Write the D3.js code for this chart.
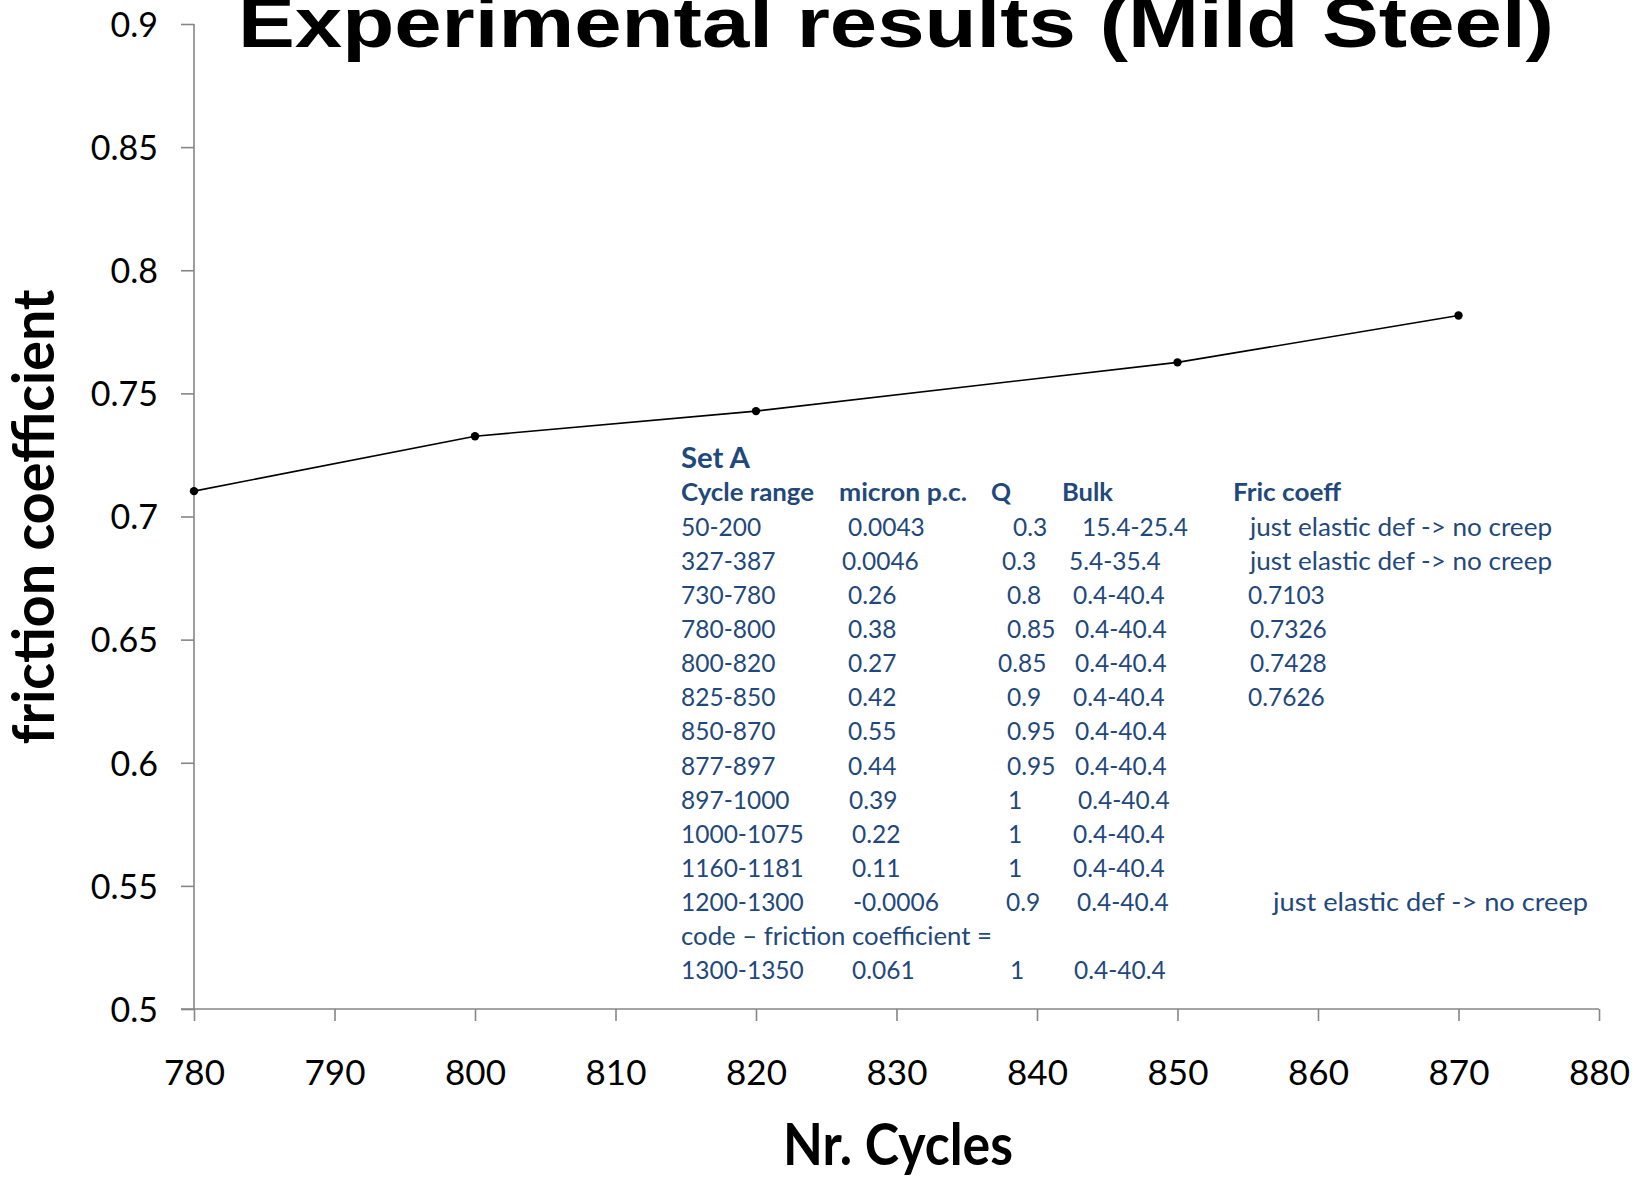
<!DOCTYPE html>
<html>
<head>
<meta charset="utf-8">
<script src="https://cdn.jsdelivr.net/npm/d3@7"></script>
<style>
  html, body { margin: 0; padding: 0; background: #fff; }
  svg { display: block; }
</style>
</head>
<body>
<svg id="chart" width="1640" height="1180"></svg>
<script>
// ---- Data ----
const cycles = [780, 800, 820, 850, 870];
const frictionCoeff = [0.7103, 0.7326, 0.7428, 0.7626, 0.7816];
const xTicks = [780, 790, 800, 810, 820, 830, 840, 850, 860, 870, 880];
const yTicks = [0.5, 0.55, 0.6, 0.65, 0.7, 0.75, 0.8, 0.85, 0.9];
const yTickLabels = ["0.5", "0.55", "0.6", "0.65", "0.7", "0.75", "0.8", "0.85", "0.9"];

const titleText = "Experimental results (Mild Steel)";
const xTitle = "Nr. Cycles";
const yTitle = "friction coefficient";

// Table annotation (Set A)
const tableTitle = "Set A";
const tableHeaders = ["Cycle range", "micron p.c.", "Q", "Bulk", "Fric coeff"];
const colRange = ["50-200", "327-387", "730-780", "780-800", "800-820", "825-850", "850-870", "877-897", "897-1000", "1000-1075", "1160-1181", "1200-1300", "code \u2013 friction coefficient =", "1300-1350"];
const colMicron = ["0.0043", "0.0046", "0.26", "0.38", "0.27", "0.42", "0.55", "0.44", "0.39", "0.22", "0.11", "-0.0006", "", "0.061"];
const colQ = ["0.3", "0.3", "0.8", "0.85", "0.85", "0.9", "0.95", "0.95", "1", "1", "1", "0.9", "", "1"];
const colBulk = ["15.4-25.4", "5.4-35.4", "0.4-40.4", "0.4-40.4", "0.4-40.4", "0.4-40.4", "0.4-40.4", "0.4-40.4", "0.4-40.4", "0.4-40.4", "0.4-40.4", "0.4-40.4", "", "0.4-40.4"];
const colFric = ["just elastic def -> no creep", "just elastic def -> no creep", "0.7103", "0.7326", "0.7428", "0.7626", "", "", "", "", "", "just elastic def -> no creep", "", ""];

// ---- Layout ----
const svg = d3.select("#chart");
const x = d3.scaleLinear().domain([780, 880]).range([194, 1599]);
const y = d3.scaleLinear().domain([0.5, 0.9]).range([1009, 24]);
const axisColor = "#868686";
const tableColor = "#1F497D";
const bodyFont = "Lato, 'Open Sans', 'Noto Sans', sans-serif";

// Title
svg.append("text")
  .attr("x", 238).attr("y", 47)
  .attr("font-family", "'Liberation Sans', Arial, sans-serif")
  .attr("font-weight", "bold")
  .attr("font-size", 70)
  .attr("textLength", 1316)
  .attr("lengthAdjust", "spacingAndGlyphs")
  .attr("fill", "#000")
  .text(titleText);

// X axis
const xAxis = d3.axisBottom(x).tickValues(xTicks).tickFormat(d3.format("d"))
  .tickSizeInner(12).tickSizeOuter(0).tickPadding(39);
const gx = svg.append("g").attr("transform", `translate(0,${y(0.5)})`).call(xAxis);
gx.select(".domain").attr("stroke", axisColor).attr("stroke-width", 1.6)
  .attr("d", `M${x(780) - 13},0H${x(880)}`);
gx.selectAll(".tick line").attr("stroke", axisColor).attr("stroke-width", 1.6);
gx.selectAll(".tick text").attr("fill", "#000")
  .attr("font-family", bodyFont).attr("font-size", 35);

// Y axis
const yAxis = d3.axisLeft(y).tickValues(yTicks).tickFormat((d, i) => yTickLabels[i])
  .tickSizeInner(13).tickSizeOuter(0).tickPadding(23);
const gy = svg.append("g").attr("transform", `translate(${x(780)},0)`).call(yAxis);
gy.select(".domain").attr("stroke", axisColor).attr("stroke-width", 1.6)
  .attr("d", `M0,${y(0.9)}V${y(0.5)}`);
gy.selectAll(".tick line").attr("stroke", axisColor).attr("stroke-width", 1.6);
gy.selectAll(".tick text").attr("fill", "#000")
  .attr("font-family", bodyFont).attr("font-size", 34).attr("dy", "0.36em");

// Axis titles
svg.append("text")
  .attr("x", 898).attr("y", 1165)
  .attr("text-anchor", "middle")
  .attr("font-family", bodyFont).attr("font-weight", "bold")
  .attr("font-size", 57)
  .attr("textLength", 230).attr("lengthAdjust", "spacingAndGlyphs")
  .attr("fill", "#000")
  .text(xTitle);

svg.append("text")
  .attr("transform", `translate(54,517) rotate(-90)`)
  .attr("text-anchor", "middle")
  .attr("font-family", bodyFont).attr("font-weight", "bold")
  .attr("font-size", 57)
  .attr("textLength", 455).attr("lengthAdjust", "spacingAndGlyphs")
  .attr("fill", "#000")
  .text(yTitle);

// Line + markers
const pts = cycles.map((c, i) => [c, frictionCoeff[i]]);
svg.append("path")
  .attr("d", d3.line().x(d => x(d[0])).y(d => y(d[1]))(pts))
  .attr("fill", "none").attr("stroke", "#000").attr("stroke-width", 1.6);
svg.selectAll("circle.pt").data(pts).enter().append("circle")
  .attr("class", "pt")
  .attr("cx", d => x(d[0])).attr("cy", d => y(d[1])).attr("r", 4.2)
  .attr("fill", "#000");

// Table annotation
const tbl = svg.append("g").attr("font-family", bodyFont).attr("fill", tableColor);
tbl.append("text").attr("x", 681).attr("y", 468)
  .attr("font-weight", "bold").attr("font-size", 28)
  .attr("textLength", 69).attr("lengthAdjust", "spacingAndGlyphs")
  .text(tableTitle);

const headerX = [681, 839, 991, 1062, 1233];
const headerW = [133, 128, 20, 51, 108];
tableHeaders.forEach((h, i) => {
  tbl.append("text").attr("x", headerX[i]).attr("y", 501)
    .attr("font-weight", "bold").attr("font-size", 25)
    .attr("textLength", headerW[i]).attr("lengthAdjust", "spacingAndGlyphs")
    .text(h);
});

const rowY0 = 535.5, rowStep = 34.15;
const microX = [848, 842, 848, 848, 848, 848, 848, 848, 849, 852, 852, 853, 0, 852];
const qX = [1013, 1002, 1007, 1007, 998, 1007, 1007, 1007, 1008, 1008, 1008, 1006, 0, 1010];
const bulkX = [1082, 1069, 1073, 1075, 1075, 1073, 1075, 1075, 1078, 1073, 1073, 1077, 0, 1074];
const fricX = [1250, 1250, 1248, 1250, 1250, 1248, 0, 0, 0, 0, 0, 1273, 0, 0];

colRange.forEach((r, i) => {
  const yy = rowY0 + i * rowStep;
  const row = tbl.append("g").attr("font-size", 24.5);
  const t0 = row.append("text").attr("x", 681).attr("y", yy).text(r);
  if (i === 12) t0.attr("textLength", 311).attr("lengthAdjust", "spacingAndGlyphs");
  if (colMicron[i]) row.append("text").attr("x", microX[i]).attr("y", yy).text(colMicron[i]);
  if (colQ[i]) row.append("text").attr("x", qX[i]).attr("y", yy).text(colQ[i]);
  if (colBulk[i]) row.append("text").attr("x", bulkX[i]).attr("y", yy).text(colBulk[i]);
  if (colFric[i]) {
    const t = row.append("text").attr("x", fricX[i]).attr("y", yy).text(colFric[i]);
    if (colFric[i].startsWith("just")) {
      t.attr("textLength", i === 11 ? 315 : 302).attr("lengthAdjust", "spacingAndGlyphs");
    }
  }
});
</script>
</body>
</html>
